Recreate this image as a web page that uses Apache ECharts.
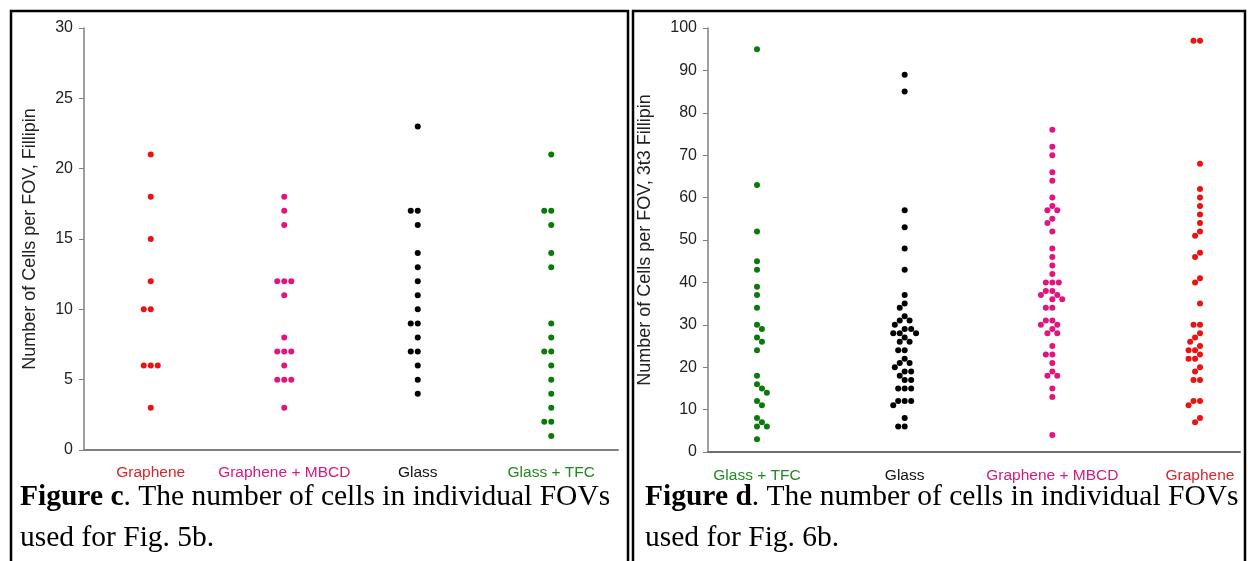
<!DOCTYPE html>
<html>
<head>
<meta charset="utf-8">
<script src="https://cdn.jsdelivr.net/npm/echarts@6/dist/echarts.min.js"></script>
<style>
html, body { margin: 0; padding: 0; background: #fff; }
#main { width: 1248px; height: 561px; }
</style>
</head>
<body>
<div id="main"></div>
<script>
// Figure c - cells per FOV, Fillipin (Fig. 5b)
var catsC = ['Graphene', 'Graphene + MBCD', 'Glass', 'Glass + TFC'];
var grapheneC = [21, 18, 15, 12, 10, 10, 6, 6, 6, 3];
var grapheneMbcdC = [18, 17, 16, 12, 12, 12, 11, 8, 7, 7, 7, 6, 5, 5, 5, 3];
var glassC = [23, 17, 17, 16, 14, 13, 12, 11, 10, 9, 9, 8, 7, 7, 6, 5, 4];
var glassTfcC = [21, 17, 17, 16, 14, 13, 9, 8, 7, 7, 6, 5, 4, 3, 2, 2, 1];
var ticksC = [0, 5, 10, 15, 20, 25, 30];

// Figure d - cells per FOV, 3t3 Fillipin (Fig. 6b)
var catsD = ['Glass + TFC', 'Glass', 'Graphene + MBCD', 'Graphene'];
var glassTfcD = [95, 63, 52, 45, 45, 43, 39, 38, 37, 34, 33, 30, 29, 29, 29, 27, 26, 26, 25, 24, 18, 17, 16, 15, 15, 15, 14, 14, 12, 11, 11, 10, 8, 8, 7, 7, 6, 6, 3];
var glassD = [89, 85, 57, 53, 48, 43, 37, 35, 34, 32, 31, 31, 30, 29, 29, 28, 28, 28, 27, 26, 26, 24, 24, 22, 21, 21, 20, 19, 19, 18, 17, 17, 15, 15, 15, 12, 12, 12, 11, 8, 6, 6];
var grapheneMbcdD = [76, 72, 70, 66, 64, 60, 58, 57, 57, 55, 54, 52, 48, 46, 44, 42, 40, 40, 40, 38, 38, 37, 37, 36, 36, 34, 34, 31, 31, 30, 30, 29, 28, 28, 25, 23, 23, 21, 19, 18, 18, 15, 13, 4];
var grapheneD = [97, 97, 68, 62, 60, 58, 56, 54, 52, 51, 47, 46, 46, 41, 40, 40, 35, 30, 30, 28, 27, 27, 26, 25, 25, 24, 24, 23, 23, 22, 22, 20, 19, 17, 17, 16, 12, 12, 11, 11, 8, 7];
var ticksD = [0, 10, 20, 30, 40, 50, 60, 70, 80, 90, 100];

var RED = '#ee1111', PINK = '#e2147e', BLACK = '#000000', GREEN = '#0b7a0b';
var colorsC = [RED, PINK, BLACK, GREEN];
var colorsD = [GREEN, BLACK, PINK, RED];
var labelColorsC = ['#d9262b', '#d6197c', '#111111', '#1f8a1f'];
var labelColorsD = ['#1f8a1f', '#111111', '#d6197c', '#d9262b'];

var sans = 'Liberation Sans, Arial, sans-serif';
var serif = 'Liberation Serif, Times New Roman, serif';
var axisGray = '#808080';

function pts(cat, arr) {
	return arr.map(function (v) { return [cat, v]; });
}

function valueAxis(gridIndex, ticks, title, gap, hidden) {
	return {
		type: 'value',
		gridIndex: gridIndex,
		show: !hidden,
		min: ticks[0],
		max: ticks[ticks.length - 1],
		interval: ticks[1] - ticks[0],
		name: title,
		nameLocation: 'middle',
		nameGap: gap,
		nameTextStyle: { fontFamily: sans, fontSize: 18, color: '#222' },
		axisLine: { show: true, lineStyle: { color: axisGray, width: 1.5 } },
		axisTick: { show: true, length: 5, lineStyle: { color: axisGray } },
		axisLabel: { fontFamily: sans, fontSize: 16, color: '#222', margin: 11 },
		splitLine: { show: false }
	};
}

function caption(x, fig, ref) {
	return {
		type: 'text', silent: true, x: x, y: 518,
		style: {
			text: '{b|Figure ' + fig + '}. The number of cells in individual FOVs\nused for Fig. ' + ref + '.',
			fontFamily: serif, fontSize: 29.5, lineHeight: 41, fill: '#000',
			verticalAlign: 'middle',
			rich: { b: { fontWeight: 'bold', fontFamily: serif, fontSize: 29.5 } }
		}
	};
}

var chart = echarts.init(document.getElementById('main'));

var option = {
	backgroundColor: '#fff',
	animation: false,
	grid: [
		{ left: 84, top: 28, width: 534, height: 422 },   // fig c
		{ left: 708, top: 28, width: 532, height: 424 },  // fig d axes
		{ left: 757, top: 28, width: 443, height: 424 }   // fig d points
	],
	xAxis: [
		{
			type: 'category', gridIndex: 0, data: catsC,
			jitter: 60, jitterOverlap: false, jitterMargin: 1,
			axisLine: { lineStyle: { color: axisGray, width: 2 } },
			axisTick: { show: false },
			axisLabel: {
				interval: 0, fontFamily: sans, fontSize: 15.5, margin: 15,
				color: function (v, i) { return labelColorsC[i]; }
			},
			splitLine: { show: false }
		},
		{
			type: 'value', gridIndex: 1, min: 0, max: 1,
			axisLine: { show: true, onZero: false, lineStyle: { color: '#6e6e6e', width: 2 } },
			axisTick: { show: false }, axisLabel: { show: false }, splitLine: { show: false }
		},
		{
			type: 'category', gridIndex: 2, data: catsD, boundaryGap: false,
			jitter: 60, jitterOverlap: false, jitterMargin: 0.5,
			axisLine: { show: false },
			axisTick: { show: false },
			axisLabel: {
				interval: 0, fontFamily: sans, fontSize: 15.5, margin: 16,
				color: function (v, i) { return labelColorsD[i]; }
			},
			splitLine: { show: false }
		}
	],
	yAxis: [
		valueAxis(0, ticksC, 'Number of Cells per FOV, Fillipin', 45),
		valueAxis(1, ticksD, 'Number of Cells per FOV, 3t3 Fillipin', 54),
		valueAxis(2, ticksD, '', 0, true)
	],
	series: [],
	graphic: [
		{
			type: 'rect', silent: true,
			shape: { x: 11, y: 11, width: 617, height: 600 },
			style: { fill: 'none', stroke: '#000', lineWidth: 2.5 }
		},
		{
			type: 'rect', silent: true,
			shape: { x: 633, y: 11, width: 612, height: 600 },
			style: { fill: 'none', stroke: '#000', lineWidth: 2.5 }
		},
		caption(20, 'c', '5b'),
		caption(645, 'd', '6b')
	]
};

var groupsC = [grapheneC, grapheneMbcdC, glassC, glassTfcC];
groupsC.forEach(function (arr, i) {
	option.series.push({
		type: 'scatter', xAxisIndex: 0, yAxisIndex: 0,
		symbolSize: 6, data: pts(catsC[i], arr),
		itemStyle: { color: colorsC[i], opacity: 1 }
	});
});

var groupsD = [glassTfcD, glassD, grapheneMbcdD, grapheneD];
groupsD.forEach(function (arr, i) {
	option.series.push({
		type: 'scatter', xAxisIndex: 2, yAxisIndex: 2,
		symbolSize: 6, data: pts(catsD[i], arr),
		itemStyle: { color: colorsD[i], opacity: 1 }
	});
});

chart.setOption(option);
</script>
</body>
</html>
